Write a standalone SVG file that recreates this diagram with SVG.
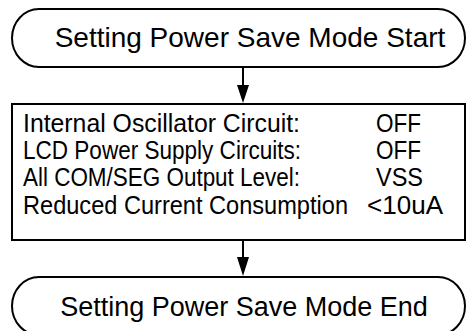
<svg xmlns="http://www.w3.org/2000/svg" width="467" height="331" viewBox="0 0 467 331">
<style>
.shape{fill:#fff;stroke:#000;stroke-width:2}
.t{font-family:"Liberation Sans",Arial,sans-serif;fill:#000}
.title{font-size:27px}
.big{font-size:28px}
.body{font-size:25px}
.conn{stroke:#000;stroke-width:2;fill:none}
.head{fill:#000}
</style>
<g id="start">
<rect class="shape" x="12" y="9" width="453" height="58" rx="27" ry="29"/>
<text class="t big" x="250" y="47" text-anchor="middle">Setting Power Save Mode Start</text>
</g>
<g id="process">
<rect class="shape" x="12" y="104" width="453" height="136"/>
<text class="t body" x="23" y="132" textLength="277" lengthAdjust="spacingAndGlyphs">Internal Oscillator Circuit:</text>
<text class="t body" x="376" y="132" textLength="45" lengthAdjust="spacingAndGlyphs">OFF</text>
<text class="t body" x="23" y="159" textLength="278" lengthAdjust="spacingAndGlyphs">LCD Power Supply Circuits:</text>
<text class="t body" x="376" y="159" textLength="45" lengthAdjust="spacingAndGlyphs">OFF</text>
<text class="t body" x="23" y="186" textLength="277" lengthAdjust="spacingAndGlyphs">All COM/SEG Output Level:</text>
<text class="t body" x="376" y="186" textLength="47" lengthAdjust="spacingAndGlyphs">VSS</text>
<text class="t body" x="23" y="214" textLength="325" lengthAdjust="spacingAndGlyphs">Reduced Current Consumption</text>
<text class="t body" x="367" y="214" textLength="76" lengthAdjust="spacingAndGlyphs">&lt;10uA</text>
</g>
<g id="end">
<rect class="shape" x="12" y="277" width="453" height="58" rx="27" ry="29"/>
<text class="t title" x="244" y="316" text-anchor="middle">Setting Power Save Mode End</text>
</g>
<g id="connectors">
<line class="conn" x1="243" y1="67" x2="243" y2="86"/>
<path class="head" d="M237,85 L249,85 L243,103 Z"/>
<line class="conn" x1="243" y1="240" x2="243" y2="258"/>
<path class="head" d="M237,257 L249,257 L243,276 Z"/>
</g>
</svg>
